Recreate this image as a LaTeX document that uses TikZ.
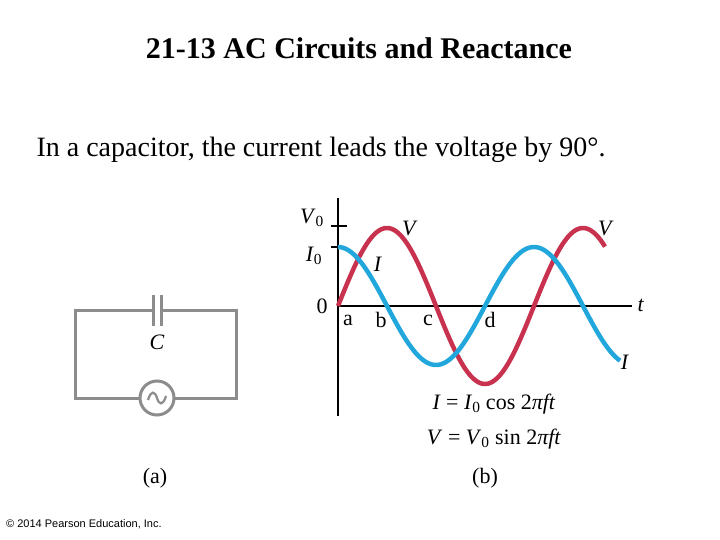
\documentclass[tikz,border=0pt]{standalone}
\usepackage{fontspec}
\setmainfont{Liberation Serif}
\newfontfamily\arialf{Liberation Sans}
\definecolor{vred}{HTML}{C8324F}
\definecolor{iblue}{HTML}{22A7DC}
\definecolor{wire}{HTML}{8C8C8C}
\newcommand{\sbz}{\textsubscript{0}}
\begin{document}
\begin{tikzpicture}[x=1pt,y=-1pt,
  lbl/.style={inner sep=0pt,font=\fontsize{22}{24}\selectfont},
  wirest/.style={draw=wire,line width=3pt}]
\useasboundingbox (0,0) rectangle (720,540);
\node[font=\bfseries\fontsize{30}{32}\selectfont] (title) at (359,48) {21-13 AC Circuits and Reactance};
\node[anchor=west,font=\fontsize{28}{30}\selectfont] (sub) at (33,150) {In a capacitor, the current leads the voltage by 90°.};
% circuit
\coordinate (cl) at (153,310); \coordinate (cr) at (161,310);
\coordinate (sl) at (140,398); \coordinate (sr) at (174,398);
\draw[wirest] (cl) -- (75,310) -- (75,398) -- (sl);
\draw[wirest] (cr) -- (236,310) -- (236,398) -- (sr);
\draw[wirest] (153,295) -- (153,326);
\draw[wirest] (161,295) -- (161,326);
\node[draw=wire,line width=3pt,circle,minimum size=34pt,inner sep=0pt] (src) at (157,398) {};
\draw[draw=wire,line width=2.2pt] (148,400) .. controls (151,390) and (155,391) .. (157,398) .. controls (159,405) and (163,406) .. (166,396);
\node[lbl] (C) at (157,342) {\textit{C}};
% axes
\draw[line width=1.5pt] (338,198) -- (338,416);
\draw[line width=1.5pt] (338,306) -- (632,306);
\draw[line width=1.5pt] (331,226) -- (347,226);
\draw[line width=1.5pt] (331,247) -- (338,247);
\draw[vred,line width=4.5pt,line join=round] plot[domain=0:267,samples=120] ({338+\x},{306-78*sin(\x/196*360)});
\draw[iblue,line width=4.5pt,line join=round] plot[domain=0:282,samples=120] ({338+\x},{306-59*cos(\x/196*360)});
\node[lbl] (V0) at (312,218) {\textit{V}\sbz};
\node[lbl] (I0) at (314,256) {\textit{I}\sbz};
\node[lbl] (z) at (322,306) {0};
\node[lbl] (t) at (641,305) {\textit{t}};
\node[lbl] (V1) at (410,228) {\textit{V}};
\node[lbl] (V2) at (606,228) {\textit{V}};
\node[lbl] (I1) at (378,264) {\textit{I}};
\node[lbl] (I2) at (625,362) {\textit{I}};
\node[lbl] (a) at (348,320) {a};
\node[lbl] (b) at (381,320) {b};
\node[lbl] (c) at (428,320) {c};
\node[lbl] (d) at (490,320) {d};
\node[lbl] (e1) at (494,404) {\textit{I} = \textit{I}\sbz{} cos 2\textit{πft}};
\node[lbl] (e2) at (494,439) {\textit{V} = \textit{V}\sbz{} sin 2\textit{πft}};
\node[lbl] (pa) at (155,478) {(a)};
\node[lbl] (pb) at (485,478) {(b)};
\node[anchor=west,inner sep=0pt,font=\arialf\fontsize{11}{12}\selectfont] (copy) at (6,524) {© 2014 Pearson Education, Inc.};
\end{tikzpicture}
\end{document}
